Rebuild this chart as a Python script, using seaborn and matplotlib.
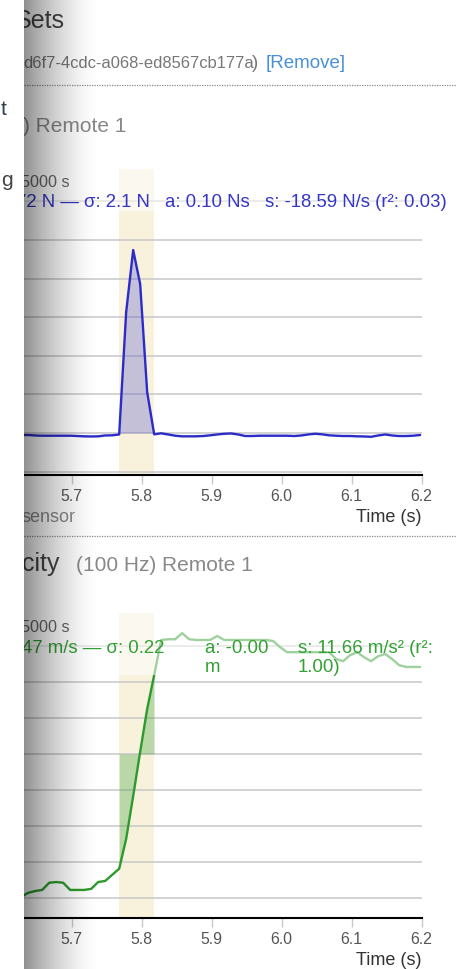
import numpy as np
import pandas as pd
import matplotlib
matplotlib.use("Agg")
import matplotlib.pyplot as plt
import seaborn as sns
from matplotlib.patches import Rectangle
from matplotlib.lines import Line2D

# ---------------- data ----------------
time_s = [5.628, 5.638, 5.648, 5.658, 5.668, 5.678, 5.688, 5.698, 5.708, 5.718,
          5.728, 5.738, 5.748, 5.758, 5.768, 5.778, 5.788, 5.798, 5.808, 5.818,
          5.828, 5.838, 5.848, 5.858, 5.868, 5.878, 5.888, 5.898, 5.908, 5.918,
          5.928, 5.938, 5.948, 5.958, 5.968, 5.978, 5.988, 5.998, 6.008, 6.018,
          6.028, 6.038, 6.048, 6.058, 6.068, 6.078, 6.088, 6.098, 6.108, 6.118,
          6.128, 6.138, 6.148, 6.158, 6.168, 6.178, 6.188, 6.198]

force_n = [-0.26, -0.26, -0.32, -0.35, -0.35, -0.35, -0.35, -0.35, -0.39, -0.43,
           -0.45, -0.43, -0.32, -0.30, -0.19, 15.67, 23.70, 19.30, 5.31, -0.17,
           -0.04, -0.19, -0.35, -0.43, -0.43, -0.43, -0.39, -0.30, -0.19, -0.10,
           -0.06, -0.19, -0.39, -0.39, -0.35, -0.35, -0.35, -0.35, -0.35, -0.39,
           -0.32, -0.19, -0.10, -0.17, -0.30, -0.35, -0.39, -0.39, -0.43, -0.45,
           -0.49, -0.32, -0.19, -0.32, -0.39, -0.39, -0.35, -0.26]

velocity_ms = [-0.397, -0.386, -0.381, -0.378, -0.358, -0.356, -0.358, -0.378, -0.378, -0.378,
               -0.375, -0.356, -0.353, -0.336, -0.319, -0.236, -0.117, 0.006, 0.125, 0.219,
               0.317, 0.319, 0.319, 0.336, 0.319, 0.317, 0.317, 0.317, 0.328, 0.317,
               0.317, 0.317, 0.317, 0.317, 0.317, 0.317, 0.314, 0.297, 0.283, 0.283,
               0.283, 0.283, 0.283, 0.283, 0.283, 0.264, 0.258, 0.275, 0.283, 0.269,
               0.258, 0.272, 0.278, 0.264, 0.247, 0.242, 0.242, 0.242]

band_start, band_end = 5.768, 5.818
x_ticks = [5.7, 5.8, 5.9, 6.0, 6.1, 6.2]
x_tick_labels = ["5.7", "5.8", "5.9", "6.0", "6.1", "6.2"]
x_limits = (5.632, 6.2)
force_grid = [-5, 0, 5, 10, 15, 20, 25, 30]
force_limits = (-5.44, 34.2)
velocity_grid = [-0.4, -0.3, -0.2, -0.1, 0.0, 0.1, 0.2, 0.3]
velocity_limits = (-0.456, 0.392)

force_df = pd.DataFrame({"t": time_s, "v": force_n})
velocity_df = pd.DataFrame({"t": time_s, "v": velocity_ms})

# ---------------- style ----------------
sns.set_style("white")
plt.rcParams["font.family"] = ["Liberation Sans", "DejaVu Sans"]

W, H = 457, 970
fig = plt.figure(figsize=(W / 100, H / 100), dpi=100)
fig.patch.set_facecolor("white")


def rect(l, t, r, b):
    return [l / W, 1 - b / H, (r - l) / W, (b - t) / H]


def fx(px):
    return px / W


def fy(py):
    return 1 - py / H


BAND = "#f8f2dd"
BLUE = "#2b2bc8"
GREEN = "#2c9a2c"


def make_chart(axrect, df, color, fill_alpha, grid, ylim, overlay_from, pad):
    ax = fig.add_axes(axrect)
    ax.axvspan(band_start, band_end, color=BAND, lw=0, zorder=0.2)
    t = np.array(df["t"])
    v = np.array(df["v"])
    m = (t >= band_start - 1e-9) & (t <= band_end + 1e-9)
    ax.fill_between(t[m], v[m], 0, color=color, alpha=fill_alpha, lw=0,
                    interpolate=True, zorder=1)
    sns.lineplot(data=df, x="t", y="v", color=color, lw=1.7, ax=ax, zorder=3)
    ax.set_xlim(*x_limits)
    ax.set_ylim(*ylim)
    ax.set_yticks(grid)
    ax.set_axisbelow(True)
    ax.grid(axis="y", color="#c8c8c8", lw=1.1)
    ax.grid(axis="x", visible=False)
    ax.tick_params(axis="y", left=False, labelleft=False)
    ax.set_xticks(x_ticks)
    ax.set_xticklabels(x_tick_labels)
    ax.tick_params(axis="x", bottom=True, direction="out", length=6.5, width=1,
                   color="#c8c8c8", labelcolor="#555555", labelsize=11.4, pad=pad)
    ax.xaxis.get_major_ticks()[-1].tick1line.set_color("black")
    for s in ["left", "top", "right"]:
        ax.spines[s].set_visible(False)
    ax.spines["bottom"].set_color("black")
    ax.spines["bottom"].set_linewidth(1.5)
    ax.set_xlabel("")
    ax.set_ylabel("")
    ax.patch.set_alpha(0)
    ax.add_patch(Rectangle((0, overlay_from), 1, 1 - overlay_from,
                           transform=ax.transAxes, facecolor="white",
                           alpha=0.55, lw=0, zorder=4))
    return ax


ax1 = make_chart(rect(24, 170, 421.5, 476), force_df, BLUE, 0.25,
                 force_grid, force_limits, (476 - 212) / 306, 2.6)
ax2 = make_chart(rect(24, 614, 421.5, 919), velocity_df, GREEN, 0.30,
                 velocity_grid, velocity_limits, (919 - 676) / 305, 3.0)


def ftext(x, y, s, size, color, ha="left", z=3):
    fig.text(fx(x), fy(y), s, fontsize=size, color=color, ha=ha,
             va="baseline", zorder=z)


# header of first section
ftext(15, 28, "Sets", 18, "#444444")
ftext(23, 68, "d6f7-4cdc-a068-ed8567cb177a", 11.9, "#777777")
ftext(252, 68, ")", 13.5, "#777777")
ftext(266, 68, "[Remove]", 13.5, "#4a90d9")
fig.add_artist(Line2D([fx(24), 1], [fy(86), fy(86)], transform=fig.transFigure,
                      color="#8a8a8a", lw=0.9, linestyle=(0, (1, 1))))
ftext(23, 132, ") Remote 1", 15, "#888888")

# first chart labels
ftext(21, 187, "5000 s", 11.7, "#666666")
ftext(16, 207, "72 N — σ: 2.1 N", 13.4, "#3535c8")
ftext(165, 207, "a: 0.10 Ns", 13.4, "#3535c8")
ftext(265, 207, "s: -18.59 N/s (r²: 0.03)", 13.4, "#3535c8")
ftext(421.7, 522, "Time (s)", 13, "#333333", ha="right")
ftext(21, 522, "sensor", 13, "#888888")

fig.add_artist(Line2D([fx(24), 1], [fy(537), fy(537)], transform=fig.transFigure,
                      color="#8a8a8a", lw=0.9, linestyle=(0, (1, 1))))

# second section
ftext(22, 571, "city", 18, "#444444")
ftext(76, 571, "(100 Hz) Remote 1", 15, "#888888")
ftext(21, 632, "5000 s", 11.7, "#666666")
ftext(22, 653, "47 m/s — σ: 0.22", 13.4, "#33a033")
ftext(205, 653, "a: -0.00", 13.4, "#33a033")
ftext(205, 672, "m", 13.4, "#33a033")
ftext(298, 653, "s: 11.66 m/s² (r²:", 13.4, "#33a033")
ftext(298, 672, "1.00)", 13.4, "#33a033")
ftext(421.7, 965, "Time (s)", 13, "#333333", ha="right")

# shadow gradient of the sliding panel
gax = fig.add_axes([fx(24), 0, 76 / W, 1], zorder=10)
s = np.linspace(0, 1, 300)
alpha = 0.44 * (1 - s) ** 1.6
img = np.zeros((1, 300, 4))
img[..., 3] = alpha
gax.imshow(img, aspect="auto", extent=[0, 1, 0, 1], interpolation="bilinear")
gax.axis("off")
gax.patch.set_alpha(0)

# left panel
fig.add_artist(Rectangle((0, 0), fx(24), 1, transform=fig.transFigure,
                         facecolor="white", lw=0, zorder=11))
ftext(1, 115, "t", 15, "#2c3e50", z=12)
ftext(1, 186, "g", 15, "#444444", z=12)

fig.savefig("out.png", dpi=100)
